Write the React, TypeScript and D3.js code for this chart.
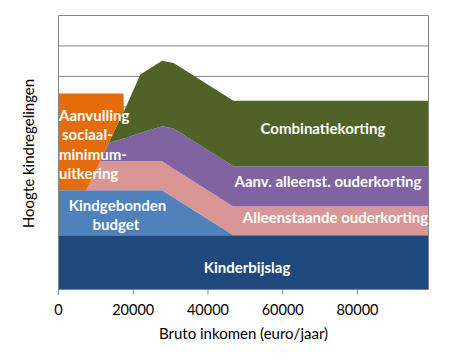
import React from "react";
import * as d3 from "d3";

const incomes = [0, 7400, 11200, 13400, 17400, 17500, 21900, 27700, 30800, 46800, 99000];
const kinderbijslag = [1.78, 1.78, 1.78, 1.78, 1.78, 1.78, 1.78, 1.78, 1.78, 1.78, 1.78];
const kindgebondenBudget = [1.48, 1.48, 1.48, 1.48, 1.48, 1.48, 1.48, 1.48, 1.24, 0, 0];
const alleenstaandeOuderkorting = [0, 0, 0.95, 0.95, 0.95, 0.95, 0.95, 0.95, 0.95, 0.95, 0.95];
const aanvAlleenstOuderkorting = [0, 0, 0, 0.6, 0.75, 0.75, 0.93, 1.15, 1.32, 1.32, 1.32];
const combinatiekorting = [0, 0, 0, 0, 0.88, 0.89, 1.92, 2.15, 2.15, 2.15, 2.15];
const aanvullingSociaalMinimum = [3.18, 3.18, 2.23, 1.63, 0.6, 0, 0, 0, 0, 0, 0];

const seriesKeys = ["kb", "kgb", "ao", "aao", "ck", "asm"];
const seriesValues = [
  kinderbijslag,
  kindgebondenBudget,
  alleenstaandeOuderkorting,
  aanvAlleenstOuderkorting,
  combinatiekorting,
  aanvullingSociaalMinimum,
];
const seriesColors = ["#1F497D", "#4F81BD", "#D99694", "#8064A2", "#4F6228", "#E46C0A"];

const xTicks = [0, 20000, 40000, 60000, 80000];
const yGrid = [1, 2, 3, 4, 5, 6, 7, 8, 9];

const W = 463;
const H = 360;
const left = 58.5;
const right = 428.5;
const top = 15.5;
const bottom = 289.5;

export default function App() {
  const x = d3.scaleLinear().domain([0, 99000]).range([left, right]);
  const y = d3.scaleLinear().domain([0, 9]).range([bottom, top]);

  const rows = incomes.map((inc, i) => {
    const r: any = { inc };
    seriesKeys.forEach((k, j) => (r[k] = seriesValues[j][i]));
    return r;
  });
  const stacked = d3.stack().keys(seriesKeys)(rows);
  const area = d3
    .area<any>()
    .x((d) => x(d.data.inc))
    .y0((d) => y(d[0]))
    .y1((d) => y(d[1]))
    .curve(d3.curveLinear);

  const font = "Lato, 'Open Sans', sans-serif";
  const lab = { fill: "#fff", fontFamily: font, fontWeight: 700, fontSize: 15 } as any;

  return (
    <svg width={W} height={H} style={{ position: "absolute", left: 0, top: 0 }}>
      <rect x={0} y={0} width={W} height={H} fill="#fff" />
      {yGrid.map((g) => (
        <line key={g} x1={left} x2={right} y1={y(g)} y2={y(g)} stroke="#868686" strokeWidth={1} />
      ))}
      {stacked.map((s, i) => (
        <path key={s.key} d={area(s as any) || ""} fill={seriesColors[i]} />
      ))}
      <line x1={left} x2={left} y1={top} y2={bottom + 5} stroke="#868686" />
      <line x1={right} x2={right} y1={top} y2={bottom} stroke="#868686" />
      <line x1={left} x2={right} y1={bottom} y2={bottom} stroke="#868686" />
      {xTicks.map((t) => (
        <g key={t}>
          <line x1={x(t)} x2={x(t)} y1={bottom} y2={bottom + 5} stroke="#868686" />
          <text x={x(t)} y={315} textAnchor="middle" fontFamily={font} fontSize={14.5} fill="#000">
            {t}
          </text>
        </g>
      ))}
      <text x={243.5} y={338.5} textAnchor="middle" fontFamily={font} fontSize={15} fill="#000">
        Bruto inkomen (euro/jaar)
      </text>
      <text
        transform={`translate(33.5,153.5) rotate(-90)`}
        textAnchor="middle"
        fontFamily={font}
        fontSize={15}
        fill="#000"
      >
        Hoogte kindregelingen
      </text>

      <text {...lab} x={59} y={120.5}>Aanvulling</text>
      <text {...lab} x={62} y={140}>sociaal-</text>
      <text {...lab} x={59} y={159.5}>minimum-</text>
      <text {...lab} x={59} y={178.5}>uitkering</text>
      <text {...lab} x={117.5} y={210.5} textAnchor="middle">Kindgebonden</text>
      <text {...lab} x={116} y={229.5} textAnchor="middle">budget</text>
      <text {...lab} x={247} y={273} textAnchor="middle">Kinderbijslag</text>
      <text {...lab} x={323} y={133.5} textAnchor="middle">Combinatiekorting</text>
      <text {...lab} x={328} y={187} textAnchor="middle">Aanv. alleenst. ouderkorting</text>
      <text {...lab} x={335.5} y={222.5} textAnchor="middle">Alleenstaande ouderkorting</text>
    </svg>
  );
}
